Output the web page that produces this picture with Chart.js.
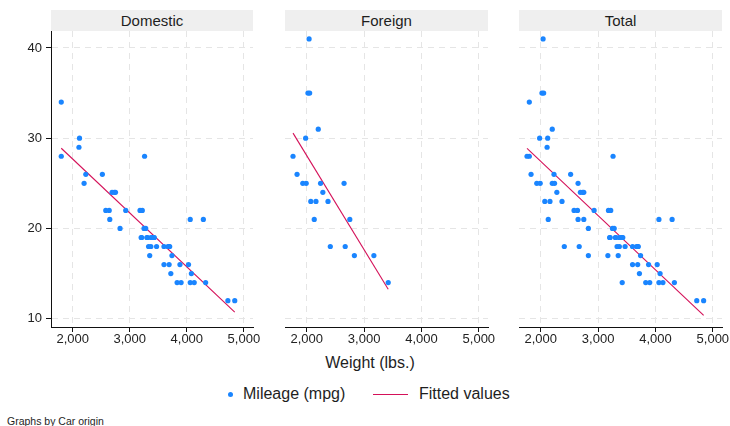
<!DOCTYPE html>
<html>
<head>
<meta charset="utf-8">
<script src="https://cdn.jsdelivr.net/npm/chart.js@4.4.1/dist/chart.umd.min.js"></script>
<style>
  body { margin: 0; width: 730px; height: 426px; background: #fff; position: relative; overflow: hidden;
         font-family: "Liberation Sans", Arial, sans-serif; color: #1e1e1e; }
  canvas { position: absolute; top: 0; }
  .strip { position: absolute; top: 10px; height: 21px; line-height: 21px; background: #efefef;
           text-align: center; font-size: 15px; }
  .txt { position: absolute; white-space: nowrap; }
</style>
</head>
<body>

<div class="txt" id="xtitle" style="left:0; width:740px; top:353px; line-height:20px; text-align:center; font-size:16px;">Weight (lbs.)</div>

<div style="position:absolute; left:228px; top:392px; width:5px; height:5px; border-radius:50%; background:#1a85ff;"></div>
<div class="txt" style="left:243px; top:384px; line-height:20px; font-size:16px;">Mileage (mpg)</div>
<div style="position:absolute; left:373px; top:394px; width:35px; height:1px; background:#d41159;"></div>
<div class="txt" style="left:419px; top:384px; line-height:20px; font-size:16px;">Fitted values</div>

<div class="txt" style="left:7px; top:415px; font-size:10.5px; line-height:12px;">Graphs by Car origin</div>

<script>
// Car data (auto): weight in lbs, mileage in mpg
const domesticWeight = [2930, 3350, 2640, 3250, 4080, 3670, 2230, 3280, 3880, 3400, 4330, 3900, 4290, 2110,
  3690, 3180, 3220, 2750, 3430, 2120, 3600, 3600, 3740, 1800, 2650, 4840, 4720, 3830, 2580, 4060, 3720, 3370,
  4130, 2830, 4060, 3310, 3300, 3690, 3370, 2730, 4030, 3260, 1800, 2200, 2520, 3330, 3700, 3470, 3210, 3200,
  3420, 2690];
const domesticMpg = [22, 17, 22, 20, 15, 18, 26, 20, 16, 19, 14, 14, 21, 29, 16, 22, 22, 24, 19, 30, 18, 16, 17,
  28, 21, 12, 12, 14, 22, 14, 15, 18, 14, 20, 21, 19, 19, 18, 19, 24, 16, 28, 34, 25, 26, 18, 18, 18, 19, 19,
  19, 24];

const foreignWeight = [2830, 2070, 2650, 2370, 2020, 2280, 2750, 2130, 2240, 1760, 1980, 3420, 1830, 2050, 2410,
  2200, 2670, 2160, 2040, 1930, 1990, 3170];
const foreignMpg = [17, 23, 25, 23, 35, 24, 21, 21, 25, 28, 30, 14, 26, 35, 18, 31, 18, 23, 41, 25, 25, 17];

// fitted line ends [weight, mpg]
const domesticFit = [[1800, 28.89], [4840, 10.73]];
const foreignFit = [[1760, 30.56], [3420, 13.27]];
const totalFit = [[1760, 28.87], [4840, 10.36]];

const xTicks = [2000, 3000, 4000, 5000];
const yTicks = [10, 20, 30, 40];

const totalWeight = domesticWeight.concat(foreignWeight);
const totalMpg = domesticMpg.concat(foreignMpg);

const FONT = '"Liberation Sans", Arial, sans-serif';
const GRID = '#e5e5e5';

function toPoints(ws, ms) {
  return ws.map((w, i) => ({ x: w, y: ms[i] }));
}

const panels = [
  { title: 'Domestic', left: 0, width: 268, padL: 0, padR: 15, yAxis: true, w: domesticWeight, m: domesticMpg, fit: domesticFit },
  { title: 'Foreign', left: 268, width: 234, padL: 17, padR: 14, yAxis: false, w: foreignWeight, m: foreignMpg, fit: foreignFit },
  { title: 'Total', left: 502, width: 228, padL: 17, padR: 8, yAxis: false, w: totalWeight, m: totalMpg, fit: totalFit }
];

panels.forEach(p => {
  const cv = document.createElement('canvas');
  cv.width = p.width;
  cv.height = 350;
  cv.style.left = p.left + 'px';
  cv.style.width = p.width + 'px';
  cv.style.height = '350px';
  document.body.appendChild(cv);

  const chart = new Chart(cv.getContext('2d'), {
    type: 'scatter',
    data: {
      datasets: [
        {
          data: toPoints(p.w, p.m),
          backgroundColor: '#1a85ff',
          borderWidth: 0,
          pointRadius: 2.6,
          pointHoverRadius: 2.6
        },
        {
          data: p.fit.map(d => ({ x: d[0], y: d[1] })),
          showLine: true,
          borderColor: '#d41159',
          borderWidth: 1.1,
          pointRadius: 0,
          fill: false
        }
      ]
    },
    options: {
      responsive: false,
      animation: false,
      events: [],
      layout: { padding: { left: p.padL, right: p.padR, top: 31, bottom: 0 } },
      plugins: { legend: { display: false }, tooltip: { enabled: false } },
      scales: {
        x: {
          type: 'linear',
          min: 1620,
          max: 5160,
          afterBuildTicks: s => { s.ticks = xTicks.map(v => ({ value: v })); },
          afterFit: s => { s.height = 23; },
          ticks: {
            font: { family: FONT, size: 13 },
            color: '#222',
            padding: 0,
            maxRotation: 0,
            autoSkip: false,
            callback: v => v.toLocaleString('en-US')
          },
          grid: { color: GRID, lineWidth: 1, tickLength: 5, tickColor: '#111', tickWidth: 1, tickBorderDash: [] },
          border: { display: true, color: '#111', width: 1, dash: [6, 5] }
        },
        y: {
          type: 'linear',
          min: 9.08,
          max: 41.88,
          afterBuildTicks: s => { s.ticks = yTicks.map(v => ({ value: v })); },
          afterFit: s => { s.width = p.yAxis ? 51 : 0; },
          ticks: {
            display: p.yAxis,
            font: { family: FONT, size: 13 },
            color: '#222',
            padding: 4
          },
          grid: { color: GRID, lineWidth: 1, drawTicks: p.yAxis, tickLength: 5, tickColor: '#111', tickWidth: 1, tickBorderDash: [] },
          border: { display: p.yAxis, color: '#111', width: 1, dash: [6, 5] }
        }
      }
    }
  });

  // panel header strip
  const a = chart.chartArea;
  const strip = document.createElement('div');
  strip.className = 'strip';
  strip.style.left = (p.left + a.left) + 'px';
  strip.style.width = (a.right - a.left) + 'px';
  strip.textContent = p.title;
  document.body.appendChild(strip);
});
</script>
</body>
</html>
